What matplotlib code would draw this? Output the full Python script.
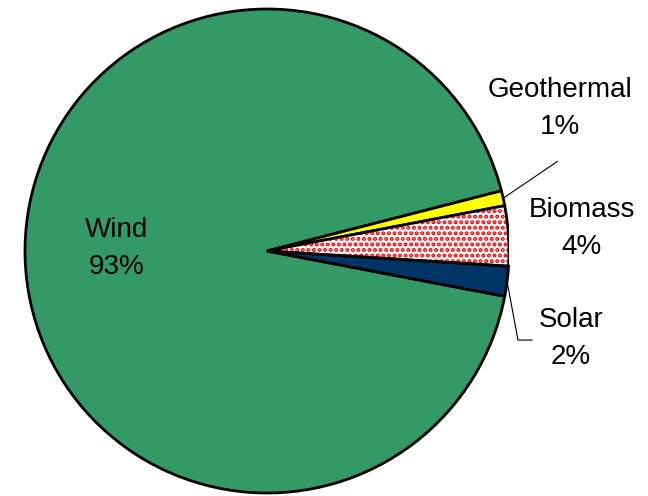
import matplotlib.pyplot as plt
from matplotlib.patches import Wedge
import numpy as np

plt.rcParams['font.family'] = ['Liberation Sans', 'DejaVu Sans']
plt.rcParams['hatch.linewidth'] = 2.0

sources = ['Wind', 'Geothermal', 'Biomass', 'Solar']
shares = [93, 1, 4, 2]
colors = ['#339966', '#ffff00', 'white', '#003366']

fig = plt.figure(figsize=(6.48, 4.96), dpi=100)
# square axes, pie radius 1
ax = fig.add_axes([25 / 648, 3 / 496, 484 / 648, 484 / 496])

wedges, _ = ax.pie(shares, colors=colors, counterclock=False, startangle=-10.8,
                   wedgeprops=dict(edgecolor='black', linewidth=2))

# biomass: red dotted fill, then redraw the black outline on top
bio = wedges[2]
bio.set_hatch('...')
bio.set_edgecolor('#ff0000')
bio.set_linewidth(0)
ax.add_patch(Wedge(bio.center, bio.r, bio.theta1, bio.theta2, fill=False,
                   edgecolor='black', linewidth=2, zorder=bio.get_zorder() + 0.1))

ax.set_xlim(-1, 1)
ax.set_ylim(-1, 1)
ax.axis('off')

def mid(w):
    a = np.deg2rad((w.theta1 + w.theta2) / 2)
    return np.cos(a), np.sin(a)

# leader lines
gx, gy = mid(wedges[1])
ax.plot([gx, 1.20], [gy, 0.37], color='black', lw=0.8, clip_on=False)
sx, sy = mid(wedges[3])
ax.plot([sx, 1.037, 1.095], [sy, -0.368, -0.368], color='black', lw=0.8,
        clip_on=False)

label_pos = [(-0.62, 0.012), (1.21, 0.59), (1.30, 0.095), (1.256, -0.36)]
for name, val, (x, y) in zip(sources, shares, label_pos):
    ax.text(x, y, '%s\n%d%%' % (name, val), ha='center', va='center',
            fontsize=20, linespacing=1.55)

fig.savefig('out.png', dpi=100)
